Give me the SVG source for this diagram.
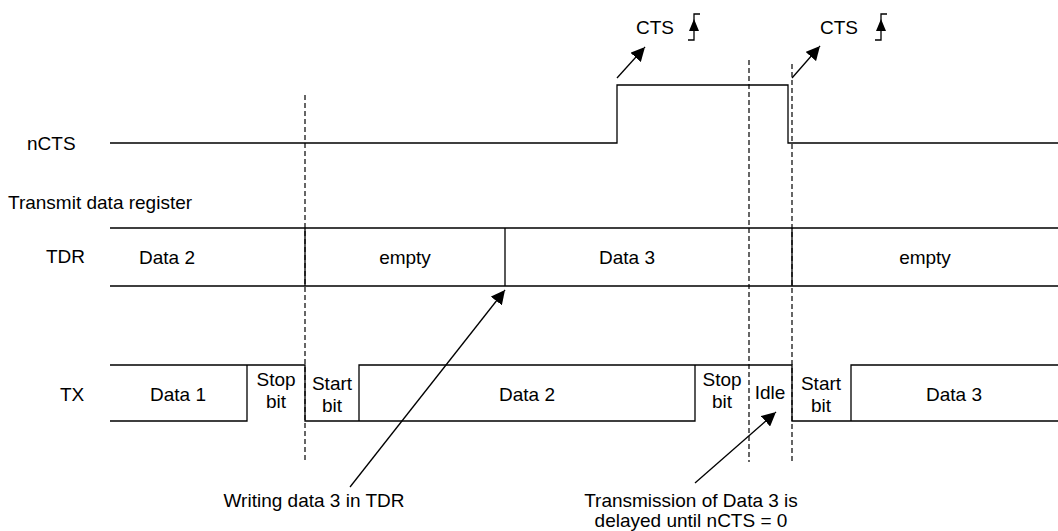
<svg xmlns="http://www.w3.org/2000/svg" width="1058" height="531" viewBox="0 0 1058 531">
<style>
text{font-family:"Liberation Sans",Arial,sans-serif;font-size:19px;fill:#000}
.w{fill:none;stroke:#000;stroke-width:1.3}
.d{fill:none;stroke:#000;stroke-width:1.2;stroke-dasharray:5,3}
.a{fill:none;stroke:#000;stroke-width:1.3;marker-end:url(#ah)}
</style>
<defs><marker id="ah" markerWidth="12" markerHeight="14" refX="14" refY="7" orient="auto" markerUnits="userSpaceOnUse"><path d="M0,0L14,7L0,14z" fill="#000"/></marker></defs>
<g id="labels">
<text x="27" y="150">nCTS</text>
<text x="8" y="209">Transmit data register</text>
<text x="46" y="263">TDR</text>
<text x="60" y="401">TX</text>
</g>
<g id="guides">
<line class="d" x1="305" y1="95" x2="305" y2="462"/>
<line class="d" x1="749" y1="60" x2="749" y2="462"/>
<line class="d" x1="792" y1="64" x2="792" y2="462"/>
</g>
<g id="ncts"><path class="w" d="M110,143H617V85H788V143H1058"/></g>
<g id="cts1"><text x="636" y="34">CTS</text><path class="w" d="M688,40H694V14H700"/><path d="M694,19L689,31H699z"/></g>
<g id="cts2"><text x="820" y="34">CTS</text><path class="w" d="M875,40H881V14H887"/><path d="M881,19L876,31H886z"/></g>
<g id="tdr">
<path class="w" d="M110,228H1058M110,286H1058M305,228V286M505,228V286M792,228V286"/>
<text x="167" y="264" text-anchor="middle">Data 2</text>
<text x="405" y="264" text-anchor="middle">empty</text>
<text x="627" y="264" text-anchor="middle">Data 3</text>
<text x="925" y="264" text-anchor="middle">empty</text>
</g>
<g id="tx">
<path class="w" d="M110,365H305V421H695V365M110,421H247V365M359,421V365H792V421H1058M851,421V365H1058"/>
<text x="178" y="401" text-anchor="middle">Data 1</text>
<text x="276" y="386" text-anchor="middle">Stop</text><text x="276" y="408" text-anchor="middle">bit</text>
<text x="332" y="390" text-anchor="middle">Start</text><text x="332" y="412" text-anchor="middle">bit</text>
<text x="527" y="401" text-anchor="middle">Data 2</text>
<text x="722" y="386" text-anchor="middle">Stop</text><text x="722" y="408" text-anchor="middle">bit</text>
<text x="770" y="399" text-anchor="middle">Idle</text>
<text x="821" y="390" text-anchor="middle">Start</text><text x="821" y="412" text-anchor="middle">bit</text>
<text x="954" y="401" text-anchor="middle">Data 3</text>
</g>
<g id="connectors">
<line class="a" x1="617" y1="78" x2="645" y2="47"/>
<line class="a" x1="792" y1="78" x2="820" y2="46"/>
<line class="a" x1="350" y1="487" x2="505" y2="290"/>
<line class="a" x1="695" y1="483" x2="776" y2="412"/>
</g>
<g id="notes">
<text x="314" y="507" text-anchor="middle">Writing data 3 in TDR</text>
<text x="691" y="507" text-anchor="middle">Transmission of Data 3 is</text>
<text x="691" y="527" text-anchor="middle">delayed until nCTS = 0</text>
</g>
</svg>
